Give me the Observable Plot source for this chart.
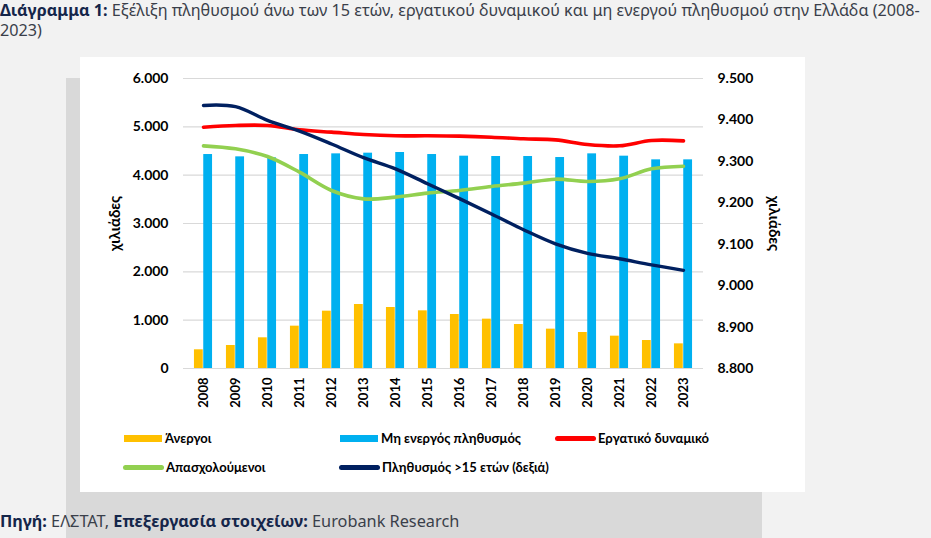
<!DOCTYPE html>
<html><head><meta charset="utf-8">
<script src="https://cdn.jsdelivr.net/npm/d3@7"></script>
<script src="https://cdn.jsdelivr.net/npm/@observablehq/plot@0.6"></script>
<style>
html,body{margin:0;padding:0;}
body{width:931px;height:538px;background:#f2f2f2;position:relative;overflow:hidden;font-family:"Noto Sans",sans-serif;}
.title{position:absolute;left:0;font-size:16.2px;line-height:18px;height:18px;color:#3a3f4a;white-space:nowrap;}
.title b,#source b{color:#15264a;font-weight:700;}
#gray{position:absolute;left:66px;top:78px;width:696px;height:460px;background:#d9d9d9;}
#white{position:absolute;left:80px;top:57px;width:725px;height:435px;background:#fff;}
#chart{position:absolute;left:80px;top:57px;}
#source{position:absolute;left:0;top:510px;font-size:16.3px;color:#3a3f4a;white-space:nowrap;}
.leg{position:absolute;font-family:Lato,sans-serif;font-weight:700;font-size:13px;color:#000;white-space:nowrap;line-height:16px;}
.sw{position:absolute;}
</style></head>
<body>
<div class="title" style="top:1px"><b>Διάγραμμα 1:</b> Εξέλιξη πληθυσμού άνω των 15 ετών, εργατικού δυναμικού και μη ενεργού πληθυσμού στην Ελλάδα (2008-</div>
<div class="title" style="top:21px">2023)</div>
<div id="gray"></div>
<div id="white"></div>
<div id="chart"></div>
<div id="legend"></div>
<div id="source"><b>Πηγή:</b> ΕΛΣΤΑΤ, <b>Επεξεργασία στοιχείων:</b> Eurobank Research</div>
<script>
const years = ["2008","2009","2010","2011","2012","2013","2014","2015","2016","2017","2018","2019","2020","2021","2022","2023"];
const unemployed = [387,476,635,876,1186,1324,1262,1193,1117,1021,910,814,745,669,579,510];
const inactive = [4427,4379,4358,4427,4441,4455,4469,4427,4393,4386,4386,4365,4441,4393,4317,4317];
const labourForce = [4993,5028,5028,4938,4890,4841,4814,4814,4807,4786,4752,4731,4634,4607,4717,4710];
const employed = [4607,4545,4386,4062,3683,3510,3545,3628,3683,3766,3835,3917,3869,3924,4131,4186];
const population15 = [9435,9432,9399,9373,9342,9309,9282,9246,9210,9173,9135,9101,9078,9065,9050,9037];
const leftTicks = [0,1000,2000,3000,4000,5000,6000];
const rightTicks = [8800,8900,9000,9100,9200,9300,9400,9500];
const seriesNames = ["Άνεργοι","Μη ενεργός πληθυσμός","Εργατικό δυναμικό","Απασχολούμενοι","Πληθυσμός >15 ετών (δεξιά)"];
const colors = ["#ffc000","#00b0f0","#ff0000","#92d050","#002060"];
const axisTitle = "χιλιάδες";

const L = [0,6000], R = [8800,9500];
const toLeft = v => (v - R[0]) / (R[1]-R[0]) * (L[1]-L[0]) + L[0];
const toRight = v => (v - L[0]) / (L[1]-L[0]) * (R[1]-R[0]) + R[0];
const fmt = d3.formatLocale({decimal:",",thousands:".",grouping:[3],currency:["","€"]}).format(",d");

const data = years.map((y,i)=>({year:y, unemployed:unemployed[i], inactive:inactive[i], lf:labourForce[i], emp:employed[i], pop:toLeft(population15[i])}));

const W=725, H=360, mL=103, mR=102, mT=21, mB=49;
const band = (W-mL-mR)/years.length;
const bw = 9.3;
const half = band/2;

const chart = Plot.plot({
  width:W, height:H, marginTop:mT, marginBottom:mB, marginLeft:mL, marginRight:mR,
  style:{fontFamily:"Lato, sans-serif", fontSize:"14px", fontWeight:"bold", color:"#000", background:"transparent", overflow:"visible"},
  x:{type:"band", domain:years, padding:0, axis:null},
  y:{domain:L, axis:null},
  marks:[
    Plot.ruleY(leftTicks, {stroke:"#d9d9d9", strokeWidth:1.2}),
    Plot.barY(data, {x:"year", y:"unemployed", fill:colors[0], insetLeft:half-bw, insetRight:half}),
    Plot.barY(data, {x:"year", y:"inactive", fill:colors[1], insetLeft:half, insetRight:half-bw}),
    Plot.line(data, {x:"year", y:"lf", stroke:colors[2], strokeWidth:3.6, curve:"catmull-rom"}),
    Plot.line(data, {x:"year", y:"emp", stroke:colors[3], strokeWidth:3.6, curve:"catmull-rom"}),
    Plot.line(data, {x:"year", y:"pop", stroke:colors[4], strokeWidth:3.4, curve:"catmull-rom"}),
    Plot.axisX({tickRotate:-90, tickSize:0, tickPadding:9, fontSize:13, fontWeight:"bold", label:null}),
    Plot.axisY(leftTicks, {anchor:"left", tickSize:0, tickPadding:15, tickFormat:fmt, label:null}),
    Plot.axisY(rightTicks.map(toLeft), {anchor:"right", tickSize:0, tickPadding:14, tickFormat:d=>fmt(Math.round(toRight(d))), label:null}),
    Plot.text([axisTitle], {frameAnchor:"left", dx:-68, rotate:-90, textAnchor:"middle", lineAnchor:"middle", text:d=>d, fontSize:15, fontWeight:"bold"}),
    Plot.text([axisTitle], {frameAnchor:"right", dx:70, rotate:90, textAnchor:"middle", lineAnchor:"middle", text:d=>d, fontSize:15, fontWeight:"bold"})
  ]
});
document.getElementById("chart").appendChild(chart);

// legend
const legendPos = [
  {x:124, y:438, type:"bar"},
  {x:340, y:438, type:"bar"},
  {x:555, y:438, type:"line"},
  {x:123, y:467, type:"line"},
  {x:339, y:467, type:"line"}
];
const leg = document.getElementById("legend");
seriesNames.forEach((name,i)=>{
  const p = legendPos[i];
  const sw = document.createElement("div");
  sw.className="sw";
  if(p.type==="bar"){
    Object.assign(sw.style,{left:p.x+"px", top:(p.y-3.5)+"px", width:"38px", height:"7px", background:colors[i]});
  } else {
    Object.assign(sw.style,{left:p.x+"px", top:(p.y-2.5)+"px", width:"41px", height:"5px", background:colors[i], borderRadius:"3px"});
  }
  leg.appendChild(sw);
  const t = document.createElement("div");
  t.className="leg";
  t.textContent=name;
  Object.assign(t.style,{left:(p.x+(p.type==="bar"?41:43))+"px", top:(p.y-8)+"px"});
  leg.appendChild(t);
});
</script>
</body></html>
